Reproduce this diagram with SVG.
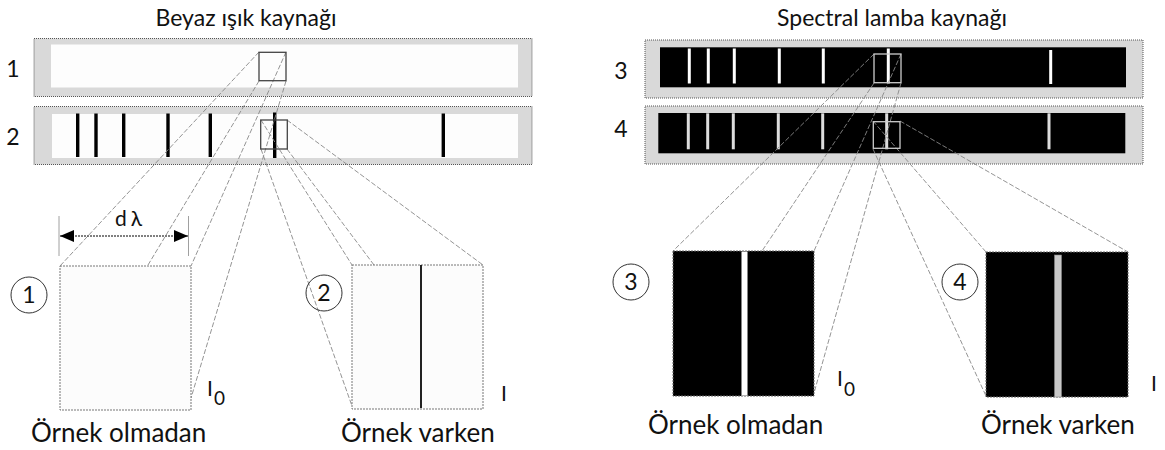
<svg xmlns="http://www.w3.org/2000/svg" width="1165" height="450" viewBox="0 0 1165 450">
<style>
text{font-family:Lato,"Open Sans","Liberation Sans",sans-serif;fill:#111}
.title{font-size:23px;text-anchor:middle}
.num{font-size:23px;text-anchor:middle}
.cap{font-size:26px}
.outer{fill:#d9d9d9;stroke:#555;stroke-width:1;stroke-dasharray:1 1}
.inw{fill:#fdfdfd}
.inb{fill:#000}
.dl{stroke:#000;stroke-width:3.4}
.wl{stroke:#fff;stroke-width:3}
.gl{stroke:#ddd;stroke-width:3}
.sbox{fill:none;stroke:#444;stroke-width:1.3}
.sboxw{fill:none;stroke:#ccc;stroke-width:1.3}
.big{fill:#fcfcfc;stroke:#777;stroke-width:1;stroke-dasharray:2 1}
.bigb{fill:#000;stroke:#666;stroke-width:1;stroke-dasharray:2 1}
.circ{fill:none;stroke:#333;stroke-width:1}
.con line{stroke:#888;stroke-width:0.9;stroke-dasharray:5 2;fill:none}
.ext{stroke:#888;stroke-width:0.8}
</style>
<defs>
<marker id="ah" viewBox="0 0 14 12" refX="14" refY="6" markerWidth="14" markerHeight="12" markerUnits="userSpaceOnUse" orient="auto-start-reverse">
<path d="M0,0 L14,6 L0,12 Z" fill="#000"/>
</marker>
</defs>

<text class="title" x="246" y="26">Beyaz ışık kaynağı</text>
<text class="title" x="892" y="26">Spectral lamba kaynağı</text>

<g id="bar1">
<rect class="outer" x="34" y="38.5" width="498" height="58"/>
<rect class="inw" x="51" y="44.5" width="467" height="43"/>
<text class="num" x="13" y="77">1</text>
</g>
<g id="bar2">
<rect class="outer" x="34" y="106.5" width="498" height="58"/>
<rect class="inw" x="52" y="114" width="466" height="44"/>
<line class="dl" x1="77.7" y1="113.5" x2="77.7" y2="157"/>
<line class="dl" x1="96" y1="113.5" x2="96" y2="157"/>
<line class="dl" x1="123.7" y1="113.5" x2="123.7" y2="157"/>
<line class="dl" x1="168" y1="113.5" x2="168" y2="157"/>
<line class="dl" x1="210.3" y1="113.5" x2="210.3" y2="157"/>
<line class="dl" x1="274.7" y1="112.5" x2="274.7" y2="158"/>
<line class="dl" x1="443.3" y1="113.5" x2="443.3" y2="157"/>
<text class="num" x="13" y="145">2</text>
</g>

<g id="bar3">
<rect class="outer" x="645" y="40" width="498" height="58"/>
<rect class="inb" x="660" y="47.3" width="466" height="40"/>
<line class="wl" x1="689.3" y1="48.5" x2="689.3" y2="83.5"/>
<line class="wl" x1="708.3" y1="48.5" x2="708.3" y2="83.5"/>
<line class="wl" x1="734.3" y1="48.5" x2="734.3" y2="83.5"/>
<line class="wl" x1="779.3" y1="48.5" x2="779.3" y2="83.5"/>
<line class="wl" x1="823.3" y1="48.5" x2="823.3" y2="83.5"/>
<line class="wl" x1="888.3" y1="48.5" x2="888.3" y2="83.5"/>
<line class="wl" x1="1050.7" y1="50" x2="1050.7" y2="84"/>
<text class="num" x="621" y="79">3</text>
</g>
<g id="bar4">
<rect class="outer" x="645" y="106" width="498" height="58"/>
<rect class="inb" x="658.3" y="113" width="467" height="40.3"/>
<line class="gl" x1="688.3" y1="113.3" x2="688.3" y2="149.3"/>
<line class="gl" x1="707.7" y1="113.3" x2="707.7" y2="149.3"/>
<line class="gl" x1="733.3" y1="113.3" x2="733.3" y2="149.3"/>
<line class="gl" x1="778.3" y1="113.3" x2="778.3" y2="149.3"/>
<line class="gl" x1="822.7" y1="113.3" x2="822.7" y2="149.3"/>
<line class="gl" x1="886.7" y1="113.3" x2="886.7" y2="149.3"/>
<line class="gl" x1="1049" y1="113.3" x2="1049" y2="149.3"/>
<text class="num" x="621" y="137">4</text>
</g>

<g id="connectors" class="con">
<line x1="259" y1="52" x2="60" y2="266"/>
<line x1="259" y1="81" x2="148" y2="265"/>
<line x1="286" y1="52" x2="191" y2="266"/>
<line x1="286" y1="81" x2="191" y2="398"/>
<line x1="261" y1="149" x2="352" y2="406"/>
<line x1="261" y1="120" x2="352" y2="265"/>
<line x1="287" y1="149" x2="374" y2="265"/>
<line x1="287" y1="120" x2="483" y2="265"/>
<line x1="874" y1="54" x2="673" y2="251"/>
<line x1="874" y1="83" x2="762" y2="251"/>
<line x1="901" y1="54" x2="814" y2="251"/>
<line x1="901" y1="83" x2="814" y2="393"/>
<line x1="873" y1="149" x2="986" y2="396"/>
<line x1="873" y1="121" x2="986" y2="252"/>
<line x1="900" y1="121" x2="1128" y2="252"/>
</g>

<g id="sel1"><rect class="sbox" x="259" y="52.3" width="27" height="28.4"/></g>
<g id="sel2"><rect class="sbox" x="260.7" y="120" width="26.6" height="29"/></g>
<g id="sel3"><rect class="sboxw" x="874" y="54" width="27" height="28.7"/></g>
<g id="sel4"><rect class="sboxw" x="873.3" y="121.7" width="26.7" height="26.6"/></g>

<g id="dim">
<line class="ext" x1="59" y1="216" x2="59" y2="256"/>
<line class="ext" x1="188.5" y1="216" x2="188.5" y2="256"/>
<line x1="60" y1="236" x2="188" y2="236" stroke="#000" stroke-width="1" stroke-dasharray="2 1" marker-start="url(#ah)" marker-end="url(#ah)"/>
<text x="115" y="226" style="font-size:21px">d<tspan dx="4">λ</tspan></text>
</g>

<g id="box1">
<rect class="big" x="60" y="266" width="131" height="144"/>
<circle class="circ" cx="29" cy="295" r="18"/>
<text class="num" x="29" y="303">1</text>
<text x="207" y="396" style="font-size:21px">I</text>
<text x="214" y="405" style="font-size:19px">0</text>
<text class="cap" x="31" y="442">Örnek olmadan</text>
</g>
<g id="box2">
<rect class="big" x="352" y="265" width="131" height="144"/>
<line x1="421" y1="265" x2="421" y2="408" stroke="#222" stroke-width="2"/>
<circle class="circ" cx="324" cy="293" r="18"/>
<text class="num" x="324" y="301">2</text>
<text x="501" y="401" style="font-size:21px">I</text>
<text class="cap" x="341" y="442">Örnek varken</text>
</g>
<g id="box3">
<rect class="bigb" x="673" y="251" width="141" height="145"/>
<rect x="741.7" y="251.7" width="5.6" height="144" fill="#fff" stroke="#aaa" stroke-width="0.6"/>
<circle class="circ" cx="631" cy="282" r="18"/>
<text class="num" x="631" y="290">3</text>
<text x="837" y="386" style="font-size:21px">I</text>
<text x="844" y="396" style="font-size:19px">0</text>
<text class="cap" x="648" y="434">Örnek olmadan</text>
</g>
<g id="box4">
<rect class="bigb" x="986" y="252" width="142" height="145"/>
<rect x="1054.5" y="255" width="7" height="142" fill="#c8c8c8" stroke="#888" stroke-width="0.6"/>
<circle class="circ" cx="960" cy="282" r="18"/>
<text class="num" x="960" y="290">4</text>
<text x="1151" y="391" style="font-size:21px">I</text>
<text class="cap" x="981" y="434">Örnek varken</text>
</g>
</svg>
